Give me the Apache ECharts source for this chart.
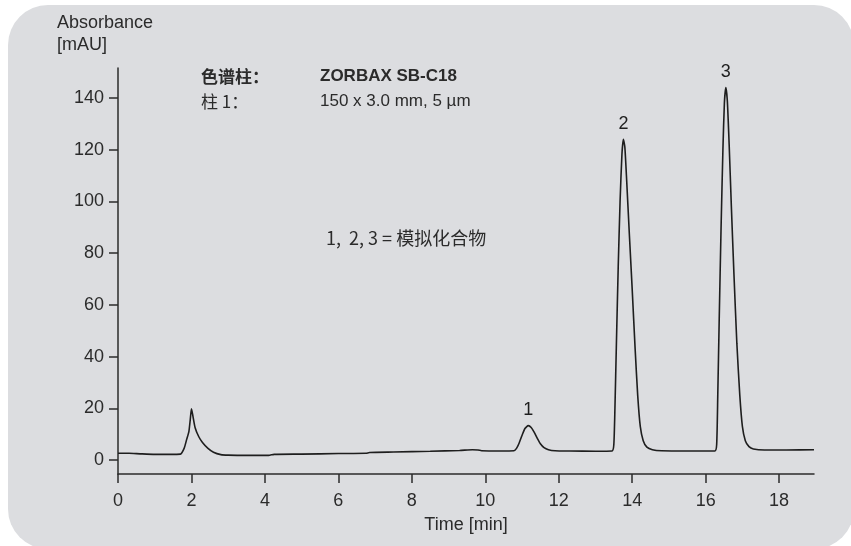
<!DOCTYPE html>
<html>
<head>
<meta charset="utf-8">
<title>色谱图</title>
<script src="https://cdn.jsdelivr.net/npm/echarts@6/dist/echarts.min.js"></script>
<style>
  html, body { margin: 0; padding: 0; background: #ffffff; }
  #chart { width: 851px; height: 546px; }
</style>
</head>
<body>
<div id="chart"></div>
<script>
// Chromatogram trace: [time (min), absorbance (mAU)]
const trace = [
  [0.0, 2.6], [0.3, 2.6], [0.6, 2.4], [1.0, 2.2], [1.4, 2.2], [1.7, 2.3],
  [1.8, 4.5], [1.87, 8.0], [1.93, 11.0], [1.97, 16.0], [2.0, 19.8], [2.04, 17.0],
  [2.1, 12.5], [2.2, 9.0], [2.3, 6.8], [2.45, 4.5], [2.6, 3.0], [2.8, 2.1],
  [3.0, 1.9], [3.5, 1.8], [4.1, 1.8], [4.25, 2.2], [5.0, 2.3], [6.0, 2.5],
  [6.75, 2.6], [6.85, 2.9], [7.5, 3.1], [8.5, 3.4], [9.3, 3.7], [9.65, 4.0],
  [9.8, 3.9], [9.9, 3.6], [10.4, 3.5], [10.78, 3.6],
  [10.85, 4.5], [10.92, 6.5], [11.0, 9.5], [11.08, 12.2], [11.17, 13.3], [11.25, 12.6],
  [11.33, 10.8], [11.42, 8.3], [11.5, 6.3], [11.6, 4.8], [11.72, 4.0], [11.9, 3.6],
  [12.3, 3.5], [13.0, 3.4], [13.45, 3.5],
  [13.5, 6.0], [13.53, 20.0], [13.57, 45.0], [13.62, 75.0], [13.67, 100.0], [13.72, 118.0],
  [13.76, 124.0], [13.8, 121.0], [13.85, 108.0], [13.92, 88.0], [14.0, 66.0], [14.08, 43.0],
  [14.15, 25.0], [14.22, 13.0], [14.3, 7.5], [14.4, 5.0], [14.55, 4.0], [14.8, 3.6],
  [15.5, 3.5], [16.25, 3.5],
  [16.3, 6.0], [16.33, 25.0], [16.37, 55.0], [16.42, 90.0], [16.47, 120.0], [16.51, 138.0],
  [16.55, 144.0], [16.59, 139.0], [16.64, 122.0], [16.7, 98.0], [16.77, 72.0], [16.85, 45.0],
  [16.93, 25.0], [17.0, 13.0], [17.08, 7.5], [17.18, 5.2], [17.3, 4.3], [17.6, 3.9],
  [18.2, 3.9], [18.95, 4.0]
];

// Numbered peaks: [time, apex absorbance, label]
const peaks = [
  [11.17, 13.3, '1'],
  [13.76, 124.0, '2'],
  [16.55, 144.0, '3']
];

const xTicks = [0, 2, 4, 6, 8, 10, 12, 14, 16, 18];
const yTicks = [0, 20, 40, 60, 80, 100, 120, 140];

const xRange = [0, 18.95];
const yRange = [-5.4, 151.6];

const ink = '#2b2b2b';
const numFont = "'Liberation Sans', 'Roboto', sans-serif";
const textFont = "'Liberation Sans', 'Noto Sans CJK SC', sans-serif";
const cjkFont = "'Noto Sans CJK SC', 'Liberation Sans', sans-serif";

const chart = echarts.init(document.getElementById('chart'), null, { renderer: 'canvas' });

chart.setOption({
  backgroundColor: '#ffffff',
  animation: false,
  grid: { left: 118, right: 37, top: 68, bottom: 72, containLabel: false },
  graphic: [
    {
      type: 'rect', z: -10, silent: true,
      shape: { x: 8, y: 5, width: 846, height: 544, r: 40 },
      style: { fill: '#dcdde0' }
    },
    {
      type: 'text', left: 57, top: 14, z: 10,
      style: { text: 'Absorbance', fill: ink, font: "18px " + textFont }
    },
    {
      type: 'text', left: 57, top: 36, z: 10,
      style: { text: '[mAU]', fill: ink, font: "18px " + textFont }
    },
    {
      type: 'text', left: 201, top: 68, z: 10,
      style: { text: '色谱柱：', fill: ink, font: "bold 17px " + cjkFont }
    },
    {
      type: 'text', left: 320, top: 68, z: 10,
      style: { text: 'ZORBAX SB-C18', fill: ink, font: "bold 17px " + textFont }
    },
    {
      type: 'text', left: 201, top: 93, z: 10,
      style: { text: '柱 1：', fill: ink, font: "17px " + cjkFont }
    },
    {
      type: 'text', left: 320, top: 93, z: 10,
      style: { text: '150 x 3.0 mm, 5 µm', fill: ink, font: "17px " + textFont }
    },
    {
      type: 'text', left: 326, top: 229, z: 10,
      style: { text: '1,  2, 3 = 模拟化合物', fill: ink, font: "18px " + cjkFont }
    }
  ],
  xAxis: {
    type: 'value',
    min: xRange[0], max: xRange[1],
    name: 'Time [min]',
    nameLocation: 'middle',
    nameGap: 42,
    nameTextStyle: { color: ink, fontSize: 18, fontFamily: textFont },
    splitLine: { show: false },
    axisLine: { show: true, onZero: false, lineStyle: { color: ink, width: 1.5 } },
    axisTick: { show: true, length: 9, customValues: xTicks, lineStyle: { color: ink, width: 1.5 } },
    axisLabel: { customValues: xTicks, color: ink, fontSize: 18, fontFamily: numFont, margin: 18 }
  },
  yAxis: {
    type: 'value',
    min: yRange[0], max: yRange[1],
    splitLine: { show: false },
    axisLine: { show: true, onZero: false, lineStyle: { color: ink, width: 1.5 } },
    axisTick: { show: true, length: 9, customValues: yTicks, lineStyle: { color: ink, width: 1.5 } },
    axisLabel: { customValues: yTicks, color: ink, fontSize: 18, fontFamily: numFont, margin: 14 }
  },
  series: [
    {
      type: 'line',
      data: trace,
      showSymbol: false,
      smooth: 0.2,
      lineStyle: { color: '#1e1e1e', width: 1.6 },
      z: 5
    },
    {
      type: 'scatter',
      data: peaks,
      symbolSize: 1,
      itemStyle: { color: 'rgba(0,0,0,0)', opacity: 1 },
      label: {
        show: true,
        position: 'top',
        distance: 6,
        formatter: p => p.data[2],
        color: '#1e1e1e',
        opacity: 1,
        fontSize: 18,
        fontFamily: numFont
      },
      emphasis: { disabled: true },
      z: 6
    }
  ]
});
</script>
</body>
</html>
